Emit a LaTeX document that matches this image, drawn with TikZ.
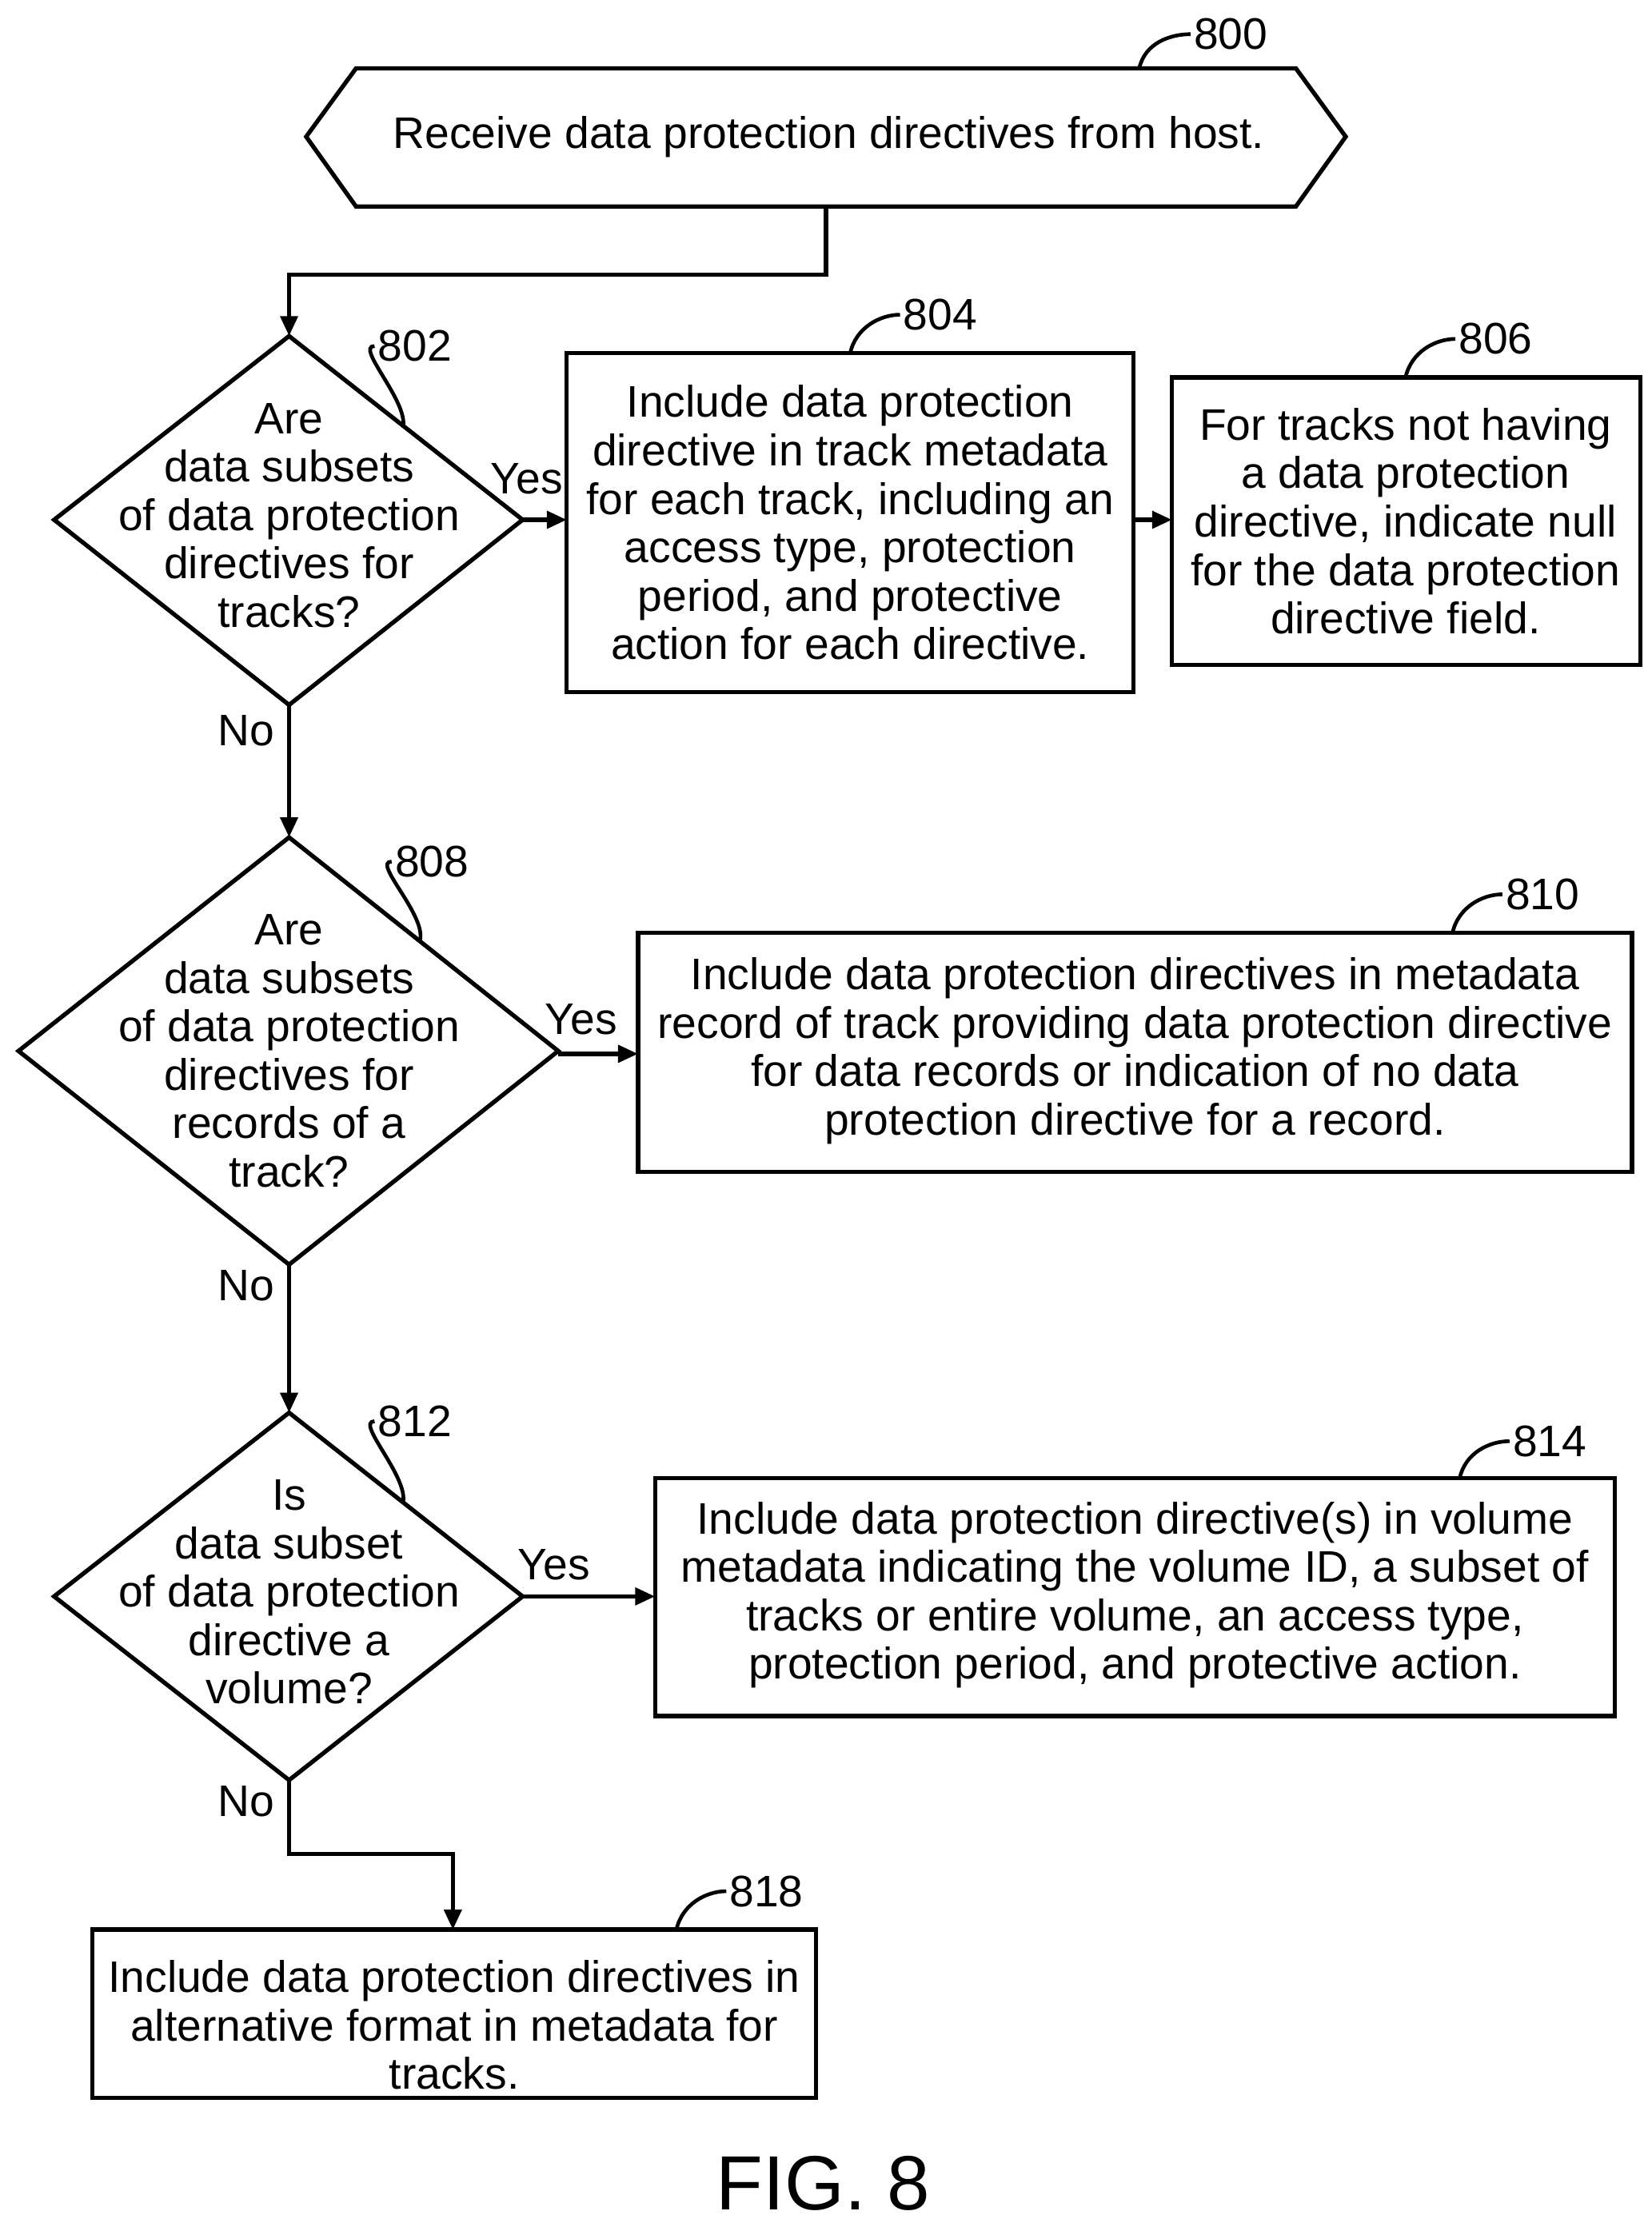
\documentclass[tikz,border=0pt]{standalone}
\usepackage{fontspec}
\setmainfont{Liberation Sans}
\usetikzlibrary{shapes.geometric,arrows.meta}
\begin{document}
\begin{tikzpicture}[x=0.5pt,y=-0.5pt,
  every node/.style={font=\fontsize{15.5}{17}\selectfont},
  txt/.style={align=center,inner sep=0pt},
  ln/.style={line width=1.5pt},
  arr/.style={ln,-{Triangle[length=7pt,width=6pt]}},
  lbl/.style={anchor=west,inner sep=1pt}]
\useasboundingbox (0,0) rectangle (1160,1561);
% 800 hexagon
\draw[ln] (215,96) coordinate (h1) -- (250,48) -- (910,48) -- (945,96) -- (910,145) -- (250,145) -- cycle;
\node[txt] (n800) at (582,96) {Receive data protection directives from host.};
\coordinate (h800b) at (580,145);
% diamonds
\draw[ln] (203,236) -- (367,365) -- (203,495) -- (38,365) -- cycle;
\node[txt] (n802) at (203,362) {Are\\data subsets\\of data protection\\directives for\\tracks?};
\draw[ln] (203,588) -- (392,738) -- (203,888) -- (13,738) -- cycle;
\node[txt] (n808) at (203,738) {Are\\data subsets\\of data protection\\directives for\\records of a\\track?};
\draw[ln] (203,992) -- (367,1121) -- (203,1250) -- (38,1121) -- cycle;
\node[txt] (n812) at (203,1118) {Is\\data subset\\of data protection\\directive a\\volume?};
% boxes
\draw[ln] (398,248) rectangle (796,486);
\node[txt] (n804) at (597,367) {Include data protection\\directive in track metadata\\for each track, including an\\access type, protection\\period, and protective\\action for each directive.};
\draw[ln] (823,265) rectangle (1152,467);
\node[txt] (n806) at (987,366) {For tracks not having\\a data protection\\directive, indicate null\\for the data protection\\directive field.};
\draw[ln] (448,655) rectangle (1146,823);
\node[txt] (n810) at (797,738) {Include data protection directives in metadata\\record of track providing data protection directive\\for data records or indication of no data\\protection directive for a record.};
\draw[ln] (460,1038) rectangle (1134,1205);
\node[txt] (n814) at (797,1120) {Include data protection directive(s) in volume\\metadata indicating the volume ID, a subset of\\tracks or entire volume, an access type,\\protection period, and protective action.};
\draw[ln] (65,1355) rectangle (573,1473);
\node[txt] (n818) at (319,1422) {Include data protection directives in\\alternative format in metadata for\\tracks.};
% connectors
\coordinate (d1t) at (203,236); \coordinate (d1r) at (367,365); \coordinate (d1b) at (203,495);
\coordinate (d2t) at (203,588); \coordinate (d2r) at (392,740); \coordinate (d2b) at (203,888);
\coordinate (d3t) at (203,992); \coordinate (d3r) at (367,1121); \coordinate (d3b) at (203,1250);
\coordinate (b804l) at (398,365); \coordinate (b804r) at (796,365); \coordinate (b806l) at (823,365);
\coordinate (b810l) at (448,740); \coordinate (b814l) at (460,1121); \coordinate (b818t) at (318,1355);
\draw[arr] (h800b) -- (580,193) -- (203,193) -- (d1t);
\draw[arr] (d1r) -- (b804l);
\draw[arr] (b804r) -- (b806l);
\draw[arr] (d1b) -- (d2t);
\draw[arr] (d2r) -- (b810l);
\draw[arr] (d2b) -- (d3t);
\draw[arr] (d3r) -- (b814l);
\draw[arr] (d3b) -- (203,1302) -- (318,1302) -- (b818t);
% yes/no
\node (y1) at (370,336) {Yes};
\node (y2) at (408,716) {Yes};
\node (y3) at (389,1099) {Yes};
\node (no1) at (173,513) {No};
\node (no2) at (173,903) {No};
\node (no3) at (173,1265) {No};
% reference labels
\newcommand{\refl}[5]{\draw[line width=1.3pt] (#1,#2) .. controls (#1+4,#2-18) and (#3-14,#4) .. (#3,#4);
  \node[lbl] at (#3,#4) {#5};}
\refl{800}{48}{836}{24}{800}
\refl{283}{300}{263}{243}{802}
\refl{597}{248}{632}{221}{804}
\refl{987}{265}{1022}{238}{806}
\refl{295}{660}{275}{605}{808}
\refl{1020}{655}{1055}{628}{810}
\refl{283}{1055}{263}{998}{812}
\refl{1025}{1038}{1060}{1012}{814}
\refl{475}{1355}{510}{1328}{818}
\node[font=\fontsize{27}{30}\selectfont] (fig) at (578,1533) {FIG. 8};
\end{tikzpicture}
\end{document}
